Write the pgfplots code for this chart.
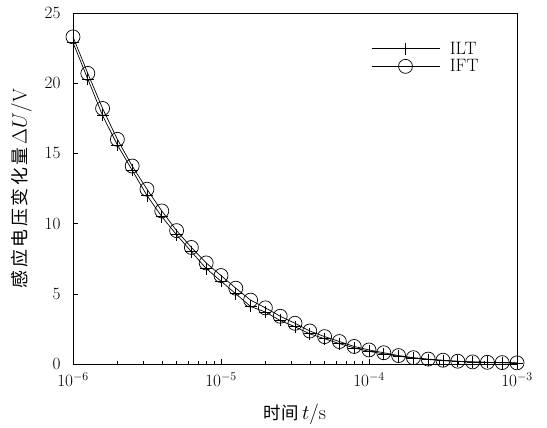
\documentclass[border=0pt]{standalone}
\usepackage{fontspec}
\usepackage{pgfplots}
\pgfplotsset{compat=1.18}
\usepackage{pgfplotstable}
\newfontfamily\cjk{Noto Sans CJK SC}
\newfontfamily\cjkwide[LetterSpace=14]{Noto Sans CJK SC}
\pgfplotstableread{
t IFT ILT
1.0000e-6 23.3 22.9
1.2589e-6 20.7 20.3
1.5849e-6 18.2 17.7
1.9953e-6 16.0 15.6
2.5119e-6 14.1 13.8
3.1623e-6 12.45 12.0
3.9811e-6 10.9 10.5
5.0119e-6 9.5 9.2
6.3096e-6 8.3 8.0
7.9433e-6 7.2 6.8
1.0000e-5 6.3 5.9
1.2589e-5 5.4 5.0
1.5849e-5 4.55 4.1
1.9953e-5 4.0 3.7
2.5119e-5 3.4 3.1
3.1623e-5 2.9 2.65
3.9811e-5 2.35 2.15
5.0119e-5 1.95 1.8
6.3096e-5 1.6 1.45
7.9433e-5 1.25 1.15
1.0000e-4 1.0 0.9
1.2589e-4 0.8 0.72
1.5849e-4 0.6 0.55
1.9953e-4 0.45 0.42
2.5119e-4 0.35 0.32
3.1623e-4 0.27 0.24
3.9811e-4 0.2 0.18
5.0119e-4 0.15 0.14
6.3096e-4 0.12 0.11
7.9433e-4 0.1 0.09
1.0000e-3 0.08 0.07
}\data
\begin{document}
\begin{tikzpicture}
\useasboundingbox (-73bp,-64bp) rectangle (474bp,364bp);
\begin{axis}[
  at={(0,0)}, anchor=south west,
  scale only axis, width=444bp, height=351bp,
  xmode=log, xmin=1e-6, xmax=1e-3,
  ymin=0, ymax=25, ytick={0,5,...,25},
  tick align=inside, xtick pos=bottom, ytick pos=left,
  major tick length=5bp, minor tick length=3bp,
  axis line style={line width=0.8pt},
  tick style={line width=0.6pt, black},
  tick label style={font=\fontsize{18.5}{21}\selectfont},
  xticklabel style={yshift=-5bp},
  yticklabel style={xshift=-9bp},
  xlabel={{\fontsize{17.5}{20}\cjk 时间}\,$t/\mathrm{s}$},
  ylabel={{\fontsize{18}{20}\cjkwide 感应电压变化量}\,$\Delta U/\mathrm{V}$},
  label style={font=\fontsize{20}{22}\selectfont},
  xlabel style={yshift=-11bp},
  ylabel style={yshift=6bp},
  legend style={draw=none, fill=none, at={(0.925,0.93)}, anchor=north east,
    font=\fontsize{18}{20}\selectfont, row sep=0bp},
  legend cell align=left,
  legend image code/.code={\draw[mark repeat=2,mark phase=2] plot coordinates {(0bp,0bp) (34bp,0bp) (68bp,0bp)}; \path (76bp,0bp);},
]
\addplot[black, line width=0.7pt, mark=+, mark size=6bp, mark options={line width=0.7pt}] table[x=t,y=ILT] {\data};
\addlegendentry{ILT}
\addplot[black, line width=0.7pt, mark=o, mark size=7bp, mark options={line width=0.7pt, fill=none}] table[x=t,y=IFT] {\data};
\addlegendentry{IFT}
\end{axis}
\end{tikzpicture}
\end{document}
